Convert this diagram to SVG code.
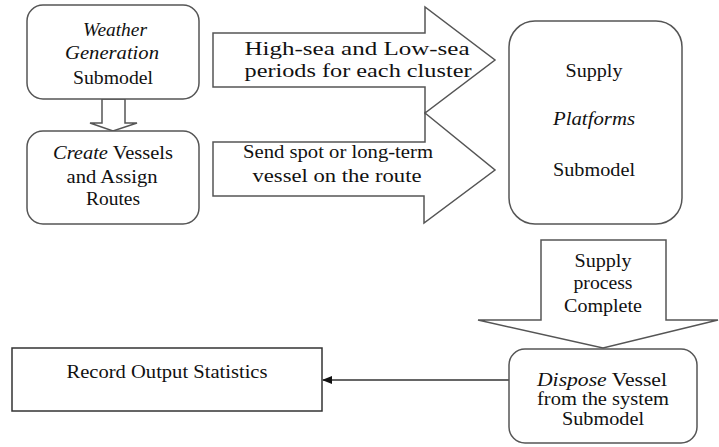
<svg xmlns="http://www.w3.org/2000/svg" width="719" height="447" viewBox="0 0 719 447" font-family="Liberation Serif, Times New Roman, serif">
<style>
.box{fill:#fff;stroke:#555;stroke-width:1.5}
.rect{fill:#fff;stroke:#333;stroke-width:1.5}
.blk{fill:#fff;stroke:#555;stroke-width:1.5;stroke-linejoin:miter}
.t{font-size:19px;fill:#111;text-anchor:middle}
.i{font-style:italic}
.ln{stroke:#333;stroke-width:1.5;fill:none}
</style>
<defs>
<marker id="ah" markerWidth="10" markerHeight="8" refX="9" refY="4" orient="auto" markerUnits="userSpaceOnUse">
<path d="M0,0 L10,4 L0,8 Z" fill="#111"/>
</marker>
</defs>
<rect width="719" height="447" fill="#fff"/>
<g id="connectors">
<polygon class="blk" points="102,99 125,99 125,123 137,123 113,131 90,123 102,123"/>
<polygon class="blk" points="213,33 425,33 425,7 495,60 425,113 425,87 213,87"/>
<text class="t" x="357" y="55" textLength="225" lengthAdjust="spacingAndGlyphs">High-sea and Low-sea</text>
<text class="t" x="358" y="77" textLength="227" lengthAdjust="spacingAndGlyphs">periods for each cluster</text>
<polygon class="blk" points="213,142 425,142 425,113 495,170 424,223 424,196 213,196"/>
<text class="t" x="338" y="158" textLength="190" lengthAdjust="spacingAndGlyphs">Send spot or long-term</text>
<text class="t" x="337" y="182" textLength="169" lengthAdjust="spacingAndGlyphs">vessel on the route</text>
<polygon class="blk" points="541,240 666,240 666,320 718,320 603,348 478,320 541,320"/>
<text class="t" x="603" y="267" textLength="57" lengthAdjust="spacingAndGlyphs">Supply</text>
<text class="t" x="603" y="289" textLength="59" lengthAdjust="spacingAndGlyphs">process</text>
<text class="t" x="603" y="312" textLength="78" lengthAdjust="spacingAndGlyphs">Complete</text>
<line class="ln" x1="509" y1="380" x2="323" y2="380" marker-end="url(#ah)"/>
</g>
<g id="weather">
<rect class="box" x="27" y="5" width="172" height="94" rx="16"/>
<text class="t i" x="115" y="36" textLength="64" lengthAdjust="spacingAndGlyphs">Weather</text>
<text class="t i" x="112" y="59" textLength="94" lengthAdjust="spacingAndGlyphs">Generation</text>
<text class="t" x="113" y="84" textLength="80" lengthAdjust="spacingAndGlyphs">Submodel</text>
</g>
<g id="create">
<rect class="box" x="27" y="131" width="172" height="93" rx="16"/>
<text class="t" x="113" y="159" textLength="120" lengthAdjust="spacingAndGlyphs"><tspan class="i">Create</tspan> Vessels</text>
<text class="t" x="112" y="183" textLength="91" lengthAdjust="spacingAndGlyphs">and Assign</text>
<text class="t" x="113" y="205" textLength="54" lengthAdjust="spacingAndGlyphs">Routes</text>
</g>
<g id="supply">
<rect class="box" x="509" y="21" width="173" height="203" rx="26"/>
<text class="t" x="594" y="77" textLength="57" lengthAdjust="spacingAndGlyphs">Supply</text>
<text class="t i" x="594" y="125" textLength="82" lengthAdjust="spacingAndGlyphs">Platforms</text>
<text class="t" x="594" y="176" textLength="82" lengthAdjust="spacingAndGlyphs">Submodel</text>
</g>
<g id="dispose">
<rect class="box" x="509" y="349" width="188" height="94" rx="16"/>
<text class="t" x="602" y="386" textLength="130" lengthAdjust="spacingAndGlyphs"><tspan class="i">Dispose</tspan> Vessel</text>
<text class="t" x="603" y="405" textLength="132" lengthAdjust="spacingAndGlyphs">from the system</text>
<text class="t" x="603" y="425" textLength="82" lengthAdjust="spacingAndGlyphs">Submodel</text>
</g>
<g id="record">
<rect class="rect" x="12" y="348" width="310" height="63"/>
<text class="t" x="167" y="378" textLength="201" lengthAdjust="spacingAndGlyphs">Record Output Statistics</text>
</g>
</svg>
